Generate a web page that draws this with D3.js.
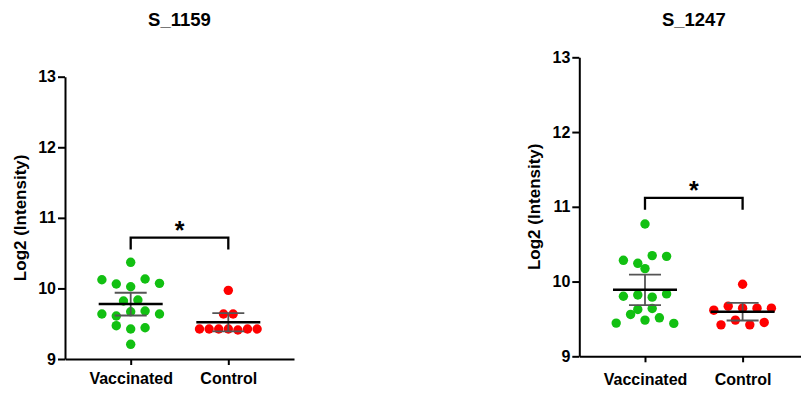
<!DOCTYPE html>
<html>
<head>
<meta charset="utf-8">
<script src="https://cdn.jsdelivr.net/npm/d3@7"></script>
<style>
	body { margin: 0; background: #fff; }
	text { font-family: "Liberation Sans", Arial, sans-serif; font-weight: bold; }
</style>
</head>
<body>
<div id="chart"></div>
<script>
// values (Log2 intensity per sample)
const categories = ["Vaccinated", "Control"];
const yTicks = [9, 10, 11, 12, 13];
const titles = ["S_1159", "S_1247"];

const s1159Vaccinated = [10.370, 10.123, 10.062, 10.024, 10.133, 10.072, 9.822, 9.836, 9.637, 9.609, 9.670, 9.680, 9.637, 9.472, 9.425, 9.443, 9.208];
const s1159Control = [9.973, 9.637, 9.637, 9.425, 9.425, 9.425, 9.425, 9.411, 9.425, 9.425];
const s1247Vaccinated = [10.770, 10.284, 10.244, 10.347, 10.337, 10.173, 9.804, 9.821, 9.791, 9.835, 9.627, 9.640, 9.444, 9.560, 9.484, 9.515, 9.440];
const s1247Control = [9.964, 9.617, 9.671, 9.644, 9.644, 9.644, 9.421, 9.484, 9.421, 9.453];

const significance = ["*", "*"];

// two-sided 95% t quantiles by degrees of freedom
const tCrit = {9: 2.262, 16: 2.120};

const colors = {Vaccinated: "#12c012", Control: "#ff0000"};

const panels = [
	{title: titles[0], groups: [s1159Vaccinated, s1159Control], star: significance[0], left: 65, top: 76.7, bottom: 359, labelPad: 8},
	{title: titles[1], groups: [s1247Vaccinated, s1247Control], star: significance[1], left: 579.3, top: 57.3, bottom: 356.3, labelPad: 11}
];

const svg = d3.select("#chart")
	.append("svg")
	.attr("width", 801)
	.attr("height", 394);

// GraphPad-like scatter: bin dots into rows, centre each row
function swarm(values, y, maxStep, maxWidth, gap) {
	const order = d3.range(values.length).sort((a, b) => values[b] - values[a]);
	const rows = [];
	let cur = [];
	order.forEach((idx, k) => {
		if (k > 0 && y(values[idx]) - y(values[order[k - 1]]) > gap) {
			rows.push(cur);
			cur = [];
		}
		cur.push(idx);
	});
	rows.push(cur);
	const widest = d3.max(rows, r => r.length);
	const step = widest > 1 ? Math.min(maxStep, maxWidth / (widest - 1)) : 0;
	const off = new Array(values.length);
	rows.forEach(r => {
		r.sort((a, b) => a - b);
		r.forEach((idx, i) => off[idx] = (i - (r.length - 1) / 2) * step);
	});
	return off;
}

panels.forEach(p => {
	const g = svg.append("g");

	const y = d3.scaleLinear()
		.domain([9, 13])
		.range([p.bottom, p.top]);

	const x = d3.scalePoint()
		.domain(categories)
		.range([p.left, p.left + 229])
		.padding(0.673);

	// title
	g.append("text")
		.attr("x", p.left + 114.5)
		.attr("y", 26)
		.attr("text-anchor", "middle")
		.style("font-size", "18.5px")
		.text(p.title);

	// y label
	g.append("text")
		.attr("transform", `translate(${p.left - 39},${(p.top + p.bottom) / 2}) rotate(-90)`)
		.attr("text-anchor", "middle")
		.style("font-size", "17px")
		.text("Log2 (Intensity)");

	// dots
	p.groups.forEach((vals, gi) => {
		const cat = categories[gi];
		const off = swarm(vals, y, 14.4, 57.6, 4.5);
		g.append("g")
			.selectAll("circle")
			.data(vals)
			.join("circle")
			.attr("cx", (d, i) => x(cat) + off[i])
			.attr("cy", d => y(d))
			.attr("r", 4.7)
			.attr("fill", colors[cat]);
	});

	// mean with 95% CI
	p.groups.forEach((vals, gi) => {
		const cx = x(categories[gi]);
		const m = d3.mean(vals);
		const ci = tCrit[vals.length - 1] * d3.deviation(vals) / Math.sqrt(vals.length);
		const eb = g.append("g")
			.attr("stroke", "#555")
			.attr("stroke-width", 1.8);
		eb.append("line")
			.attr("x1", cx).attr("x2", cx)
			.attr("y1", y(m + ci)).attr("y2", y(m - ci));
		eb.selectAll(".cap")
			.data([m + ci, m - ci])
			.join("line")
			.attr("x1", cx - 16).attr("x2", cx + 16)
			.attr("y1", d => y(d)).attr("y2", d => y(d));
		g.append("line")
			.attr("x1", cx - 32).attr("x2", cx + 32)
			.attr("y1", y(m)).attr("y2", y(m))
			.attr("stroke", "#000")
			.attr("stroke-width", 2.5);
	});

	// significance bracket
	const top = d3.max(p.groups.flat());
	const by = y(top + 0.35);
	const x1 = x(categories[0]), x2 = x(categories[1]);
	g.append("path")
		.attr("d", `M${x1},${by + 12}V${by}H${x2}V${by + 12}`)
		.attr("fill", "none")
		.attr("stroke", "#000")
		.attr("stroke-width", 2.3);
	g.append("text")
		.attr("x", (x1 + x2) / 2)
		.attr("y", by + 1)
		.attr("text-anchor", "middle")
		.style("font-size", "25px")
		.text(p.star);

	// axes
	const yAxis = g.append("g")
		.attr("class", "y-axis")
		.attr("transform", `translate(${p.left},0)`)
		.call(d3.axisLeft(y).tickValues(yTicks).tickFormat(d3.format("d")).tickSize(7).tickSizeOuter(0).tickPadding(2));

	const xAxis = g.append("g")
		.attr("class", "x-axis")
		.attr("transform", `translate(0,${p.bottom})`)
		.call(d3.axisBottom(x).tickSize(6).tickSizeOuter(0).tickPadding(p.labelPad));

	g.selectAll(".domain, .tick line")
		.attr("stroke", "#000")
		.attr("stroke-width", 2);
	yAxis.selectAll(".tick text")
		.style("font-size", "16px")
		.style("font-family", "Liberation Sans, Arial, sans-serif")
		.attr("fill", "#000");
	xAxis.selectAll(".tick text")
		.style("font-size", "16px")
		.style("font-family", "Liberation Sans, Arial, sans-serif")
		.attr("fill", "#000");
});
</script>
</body>
</html>
